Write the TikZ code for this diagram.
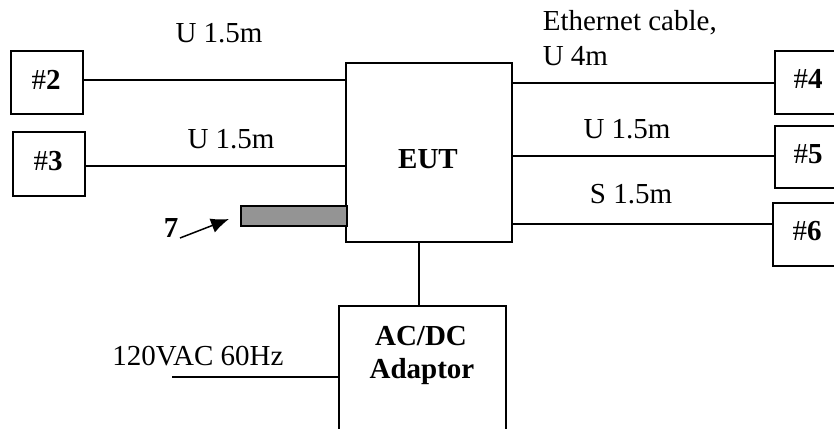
\documentclass[tikz,border=0pt]{standalone}
\usepackage{fontspec}
\setmainfont{Liberation Serif}
\usetikzlibrary{arrows.meta}
\begin{document}
\begin{tikzpicture}[x=1pt,y=-1pt,line width=1.6pt,
  box/.style={draw,line width=1.6pt,inner sep=0pt,anchor=north west},
  lbl/.style={inner sep=0pt,anchor=base,font=\fontsize{29}{32}\selectfont},
  bl/.style={inner sep=0pt,anchor=base,font=\fontsize{29}{32}\selectfont\bfseries}]
\useasboundingbox (0,0) rectangle (834,428);
\clip (0,0) rectangle (834,428);
% boxes
\node[box,minimum width=72pt,minimum height=63pt] (b2) at (10,50) {};
\node[lbl] at (46,89) {\#\textbf{2}};
\node[box,minimum width=72pt,minimum height=64pt] (b3) at (12,131) {};
\node[lbl] at (48,170) {\#\textbf{3}};
\node[box,minimum width=166pt,minimum height=179pt] (eut) at (345,62) {};
\node[bl] at (428,168) {EUT};
\node[box,minimum width=68pt,minimum height=63pt] (b4) at (774,50) {};
\node[lbl] at (808,88) {\#\textbf{4}};
\node[box,minimum width=68pt,minimum height=62pt] (b5) at (774,125) {};
\node[lbl] at (808,163) {\#\textbf{5}};
\node[box,minimum width=70pt,minimum height=63pt] (b6) at (772,202) {};
\node[lbl] at (807,240) {\#\textbf{6}};
\node[box,minimum width=167pt,minimum height=140pt] (ad) at (338,305) {};
\node[bl] at (421,345) {AC/DC};
\node[bl] at (422,378) {Adaptor};
\node[box,fill=black!42,minimum width=106pt,minimum height=20pt] (bar) at (240,205) {};
% connectors
\draw (b2.east |- 0,80) -- (eut.west |- 0,80);
\draw (b3.east |- 0,166) -- (eut.west |- 0,166);
\draw (eut.east |- 0,83) -- (b4.west |- 0,83);
\draw (eut.east |- 0,156) -- (b5.west |- 0,156);
\draw (eut.east |- 0,224) -- (b6.west |- 0,224);
\draw (eut.south -| 419,0) -- (ad.north -| 419,0);
\coordinate (acin) at (172,377);
\draw (acin) -- (ad.west |- acin);
% labels
\node[lbl] at (219,43) {U 1.5m};
\node[lbl] at (231,148) {U 1.5m};
\node[lbl,anchor=base west] at (542,31) {Ethernet cable,};
\node[lbl,anchor=base west] at (542,65) {U 4m};
\node[lbl] at (627,138) {U 1.5m};
\node[lbl] at (631,203) {S 1.5m};
\node[lbl] at (198,365) {120VAC 60Hz};
% 7 arrow
\node[bl] (n7) at (171,237) {7};
\coordinate (a7s) at (180,238);
\coordinate (a7e) at (229,219);
\draw[-{Latex[length=18pt,width=15pt]},line width=1.5pt] (a7s) -- (a7e);
\end{tikzpicture}
\end{document}
